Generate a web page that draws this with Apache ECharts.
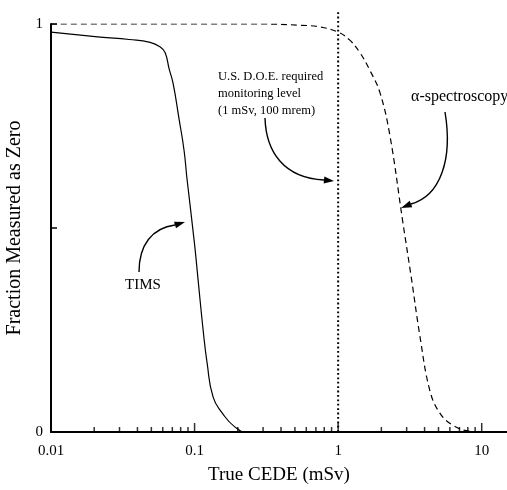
<!DOCTYPE html>
<html>
<head>
<meta charset="utf-8">
<script src="https://cdn.jsdelivr.net/npm/echarts@6/dist/echarts.min.js"></script>
<style>
  html, body { margin: 0; padding: 0; background: #fff; }
  #chart { width: 507px; height: 490px; }
</style>
</head>
<body>
<div id="chart"></div>
<script>
// TIMS (solid curve)
const timsDose = [0.01, 0.022, 0.035, 0.049, 0.0575, 0.0623, 0.0665, 0.0708, 0.078, 0.0845, 0.0886, 0.1, 0.1058, 0.1147, 0.1223, 0.1345, 0.1555, 0.1915, 0.232, 15]
const timsFraction = [0.98, 0.968, 0.962, 0.955, 0.944, 0.93, 0.89, 0.855, 0.767, 0.69, 0.62, 0.46, 0.373, 0.25, 0.169, 0.086, 0.047, 0.012, 0, 0]

// alpha-spectroscopy (dashed curve)
const alphaDose = [0.01, 0.3, 0.54, 0.745, 1.0, 1.2, 1.41, 1.66, 1.95, 2.29, 2.82, 3.25, 3.7, 4.34, 5.09, 6.27, 8.24, 11.35, 15]
const alphaFraction = [1, 1, 0.997, 0.993, 0.98, 0.961, 0.931, 0.887, 0.833, 0.728, 0.515, 0.373, 0.238, 0.103, 0.047, 0.017, 0.002, 0, 0]

// U.S. D.O.E. required monitoring level (1 mSv)
const doeLevel = 1
const doeSpan = [0, 1.035]

// log axis ticks
const majorTicks = [0.1, 1, 10]
const minorTicks = [0.02, 0.03, 0.04, 0.05, 0.06, 0.07, 0.08, 0.09,
  0.2, 0.3, 0.4, 0.5, 0.6, 0.7, 0.8, 0.9,
  2, 3, 4, 5, 6, 7, 8, 9]
const xLabels = ['0.01', '0.1', '1', '10']

const serif = 'Liberation Serif'

const pair = (xs, ys) => xs.map((x, i) => [x, ys[i]])

// curved annotation arrow: bezier + filled head
function arrow (p0, c1, c2, p1, tip) {
  const dx = tip[0] - p1[0]
  const dy = tip[1] - p1[1]
  const len = Math.sqrt(dx * dx + dy * dy)
  const nx = -dy / len * 3.5
  const ny = dx / len * 3.5
  return [{
    type: 'bezierCurve',
    shape: { x1: p0[0], y1: p0[1], cpx1: c1[0], cpy1: c1[1], cpx2: c2[0], cpy2: c2[1], x2: p1[0], y2: p1[1] },
    style: { stroke: '#000', lineWidth: 1.4, fill: null }
  }, {
    type: 'polygon',
    shape: { points: [tip, [p1[0] + nx, p1[1] + ny], [p1[0] - nx, p1[1] - ny]] },
    style: { fill: '#000' }
  }]
}

const chart = echarts.init(document.getElementById('chart'), null, { renderer: 'canvas' })

chart.setOption({
  animation: false,
  backgroundColor: '#fff',
  grid: { left: 51, right: 0, top: 24, bottom: 58, outerBoundsMode: 'none', containLabel: false },
  xAxis: {
    type: 'log',
    logBase: 10,
    min: 0.01,
    max: 15,
    name: 'True CEDE (mSv)',
    nameLocation: 'middle',
    nameGap: 34,
    nameTextStyle: { fontFamily: serif, fontSize: 19, color: '#000' },
    axisLine: { lineStyle: { color: '#000', width: 2 } },
    axisTick: { show: false },
    splitLine: { show: false },
    axisLabel: {
      showMaxLabel: false,
      margin: 12,
      fontFamily: serif,
      fontSize: 15,
      color: '#000',
      formatter: v => {
        const s = String(Number(v.toPrecision(6)))
        return xLabels.indexOf(s) >= 0 ? s : ''
      }
    }
  },
  yAxis: {
    type: 'value',
    min: 0,
    max: 1,
    interval: 0.5,
    name: 'Fraction Measured as Zero',
    nameLocation: 'middle',
    nameGap: 18,
    nameTextStyle: { fontFamily: serif, fontSize: 20, color: '#000' },
    axisLine: { show: true, lineStyle: { color: '#000', width: 2 } },
    axisTick: { show: true, inside: true, length: 6, lineStyle: { color: '#000', width: 1.5 } },
    splitLine: { show: false },
    axisLabel: {
      margin: 8,
      fontFamily: serif,
      fontSize: 15,
      color: '#000',
      formatter: v => (v === 0.5 ? '' : String(v))
    }
  },
  series: [{
    name: 'TIMS',
    type: 'line',
    data: pair(timsDose, timsFraction),
    showSymbol: false,
    smooth: 0.5,
    lineStyle: { color: '#000', width: 1.2 },
    z: 3
  }, {
    name: 'α-spectroscopy',
    type: 'line',
    data: pair(alphaDose, alphaFraction),
    showSymbol: false,
    smooth: 0.4,
    lineStyle: { color: '#000', width: 1.2, type: [6, 4] },
    z: 3
  }, {
    name: 'DOE level',
    type: 'line',
    data: doeSpan.map(y => [doeLevel, y]),
    showSymbol: false,
    clip: false,
    lineStyle: { color: '#000', width: 2, type: [1.8, 2.6] },
    z: 3
  }, {
    name: 'minor ticks',
    type: 'scatter',
    data: minorTicks.map(x => [x, 0]),
    symbol: 'rect',
    symbolSize: [1.5, 5],
    symbolOffset: [0, '-50%'],
    itemStyle: { color: '#000' },
    silent: true,
    z: 4
  }, {
    name: 'major ticks',
    type: 'scatter',
    data: majorTicks.map(x => [x, 0]),
    symbol: 'rect',
    symbolSize: [1.5, 9],
    symbolOffset: [0, '-50%'],
    itemStyle: { color: '#000' },
    silent: true,
    z: 4
  }],
  graphic: [
    {
      type: 'text',
      left: 218,
      top: 68,
      style: {
        text: 'U.S. D.O.E. required\nmonitoring level\n(1 mSv, 100 mrem)',
        font: '12.5px "Liberation Serif"',
        lineHeight: 17,
        fill: '#000'
      }
    },
    {
      type: 'text',
      left: 411,
      top: 89,
      style: { text: 'α-spectroscopy', font: '16px "Liberation Serif"', fill: '#000' }
    },
    {
      type: 'text',
      left: 125,
      top: 278,
      style: { text: 'TIMS', font: '15px "Liberation Serif"', fill: '#000' }
    },
    ...arrow([139, 272], [139, 245], [152, 228], [175, 225], [185, 222]),
    ...arrow([265, 118], [266, 152], [284, 178], [324, 180], [334, 181]),
    ...arrow([445, 112], [453, 160], [440, 196], [411, 204], [401, 208])
  ]
})
</script>
</body>
</html>
